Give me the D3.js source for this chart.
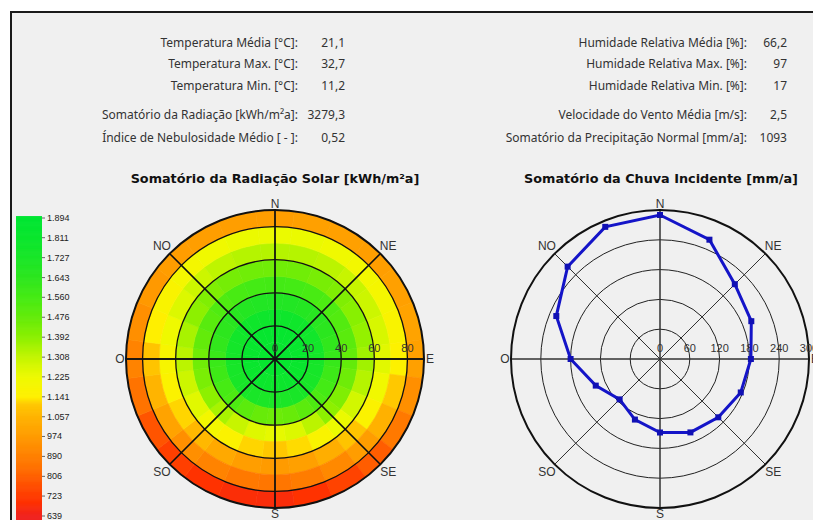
<!DOCTYPE html>
<html><head><meta charset="utf-8">
<script src="https://cdn.jsdelivr.net/npm/d3@7"></script>
<style>body{margin:0;background:#fff;overflow:hidden}</style>
</head><body><svg id="c" width="813" height="520"></svg>
<script>
// ---------- DATA ----------
const statsLeftLabels = ["Temperatura Média [°C]:", "Temperatura Max. [°C]:", "Temperatura Min. [°C]:", "Somatório da Radiação [kWh/m²a]:", "Índice de Nebulosidade Médio [ - ]:"];
const statsLeftValues = ["21,1", "32,7", "11,2", "3279,3", "0,52"];
const statsRightLabels = ["Humidade Relativa Média [%]:", "Humidade Relativa Max. [%]:", "Humidade Relativa Min. [%]:", "Velocidade do Vento Média [m/s]:", "Somatório da Precipitação Normal [mm/a]:"];
const statsRightValues = ["66,2", "97", "17", "2,5", "1093"];

const titleLeft = "Somatório da Radiação Solar [kWh/m²a]";
const titleRight = "Somatório da Chuva Incidente [mm/a]";

const directions = ["N", "NE", "E", "SE", "S", "SO", "O", "NO"];
const directionAngles = [0, 45, 90, 135, 180, 225, 270, 315];

const tiltTicks = [0, 20, 40, 60, 80];
const tiltMax = 90;
const rainTicks = [0, 60, 120, 180, 240, 300];
const rainMax = 300;

const legendValues = [1894, 1811, 1727, 1643, 1560, 1476, 1392, 1308, 1225, 1141, 1057, 974, 890, 806, 723, 639];
const legendLabels = ["1.894", "1.811", "1.727", "1.643", "1.560", "1.476", "1.392", "1.308", "1.225", "1.141", "1.057", "974", "890", "806", "723", "639"];

// radiation grid: tilt bands of 10°, azimuth sectors of 15° starting at N, clockwise
const bandEdges = [0, 10, 20, 30, 40, 50, 60, 70, 80, 90];
const sectorAzimuths = [0, 15, 30, 45, 60, 75, 90, 105, 120, 135, 150, 165, 180, 195, 210, 225, 240, 255, 270, 285, 300, 315, 330, 345];
const radCenter = 1840;
const radBand1 = [1850,1850,1845,1840,1835,1830,1825,1820,1815,1810,1805,1800,1800,1800,1805,1810,1815,1820,1825,1830,1835,1840,1845,1850];
const radBand2 = [1790,1790,1785,1780,1770,1760,1750,1745,1735,1730,1725,1720,1720,1720,1725,1730,1735,1740,1745,1755,1765,1775,1785,1790];
const radBand3 = [1690,1690,1680,1665,1650,1630,1610,1590,1565,1540,1500,1470,1460,1470,1500,1540,1560,1585,1600,1625,1645,1660,1680,1690];
const radBand4 = [1570,1565,1555,1540,1525,1505,1480,1455,1420,1390,1320,1260,1240,1255,1300,1350,1390,1430,1450,1480,1510,1535,1555,1565];
const radBand5 = [1450,1450,1435,1420,1400,1380,1360,1330,1280,1230,1170,1125,1110,1120,1160,1200,1250,1290,1320,1350,1390,1420,1440,1450];
const radBand6 = [1330,1330,1320,1300,1290,1270,1250,1210,1160,1100,1040,990,975,985,1020,1070,1120,1160,1180,1220,1260,1290,1315,1330];
const radBand7 = [1230,1230,1215,1200,1190,1170,1150,1110,1050,980,920,880,860,870,900,940,1000,1060,1100,1140,1170,1195,1215,1230];
const radBand8 = [985,990,990,985,990,1000,990,940,870,800,740,700,680,685,700,730,780,850,900,940,970,980,985,985];

// incident rain, 16 directions from N clockwise
const rainAzimuths = [0, 22.5, 45, 67.5, 90, 112.5, 135, 157.5, 180, 202.5, 225, 247.5, 270, 292.5, 315, 337.5];
const rainValues = [290, 260, 213, 199, 183, 176, 166, 160, 148, 132, 115, 140, 180, 226, 263, 288];

// ---------- DRAW ----------
const svg = d3.select("#c");
const W = 813, H = 520;
svg.append("rect").attr("width", W).attr("height", H).attr("fill", "#fff");
svg.append("rect").attr("x", 11).attr("y", 12).attr("width", W + 10).attr("height", H + 10)
  .attr("fill", "#F0F0F0").attr("stroke", "#1a1a1a").attr("stroke-width", 2);

const textFont = "'Noto Sans', 'Open Sans', sans-serif";
const rowY = d3.scaleOrdinal().domain(d3.range(5)).range([42, 63, 85, 114, 137]);

function statBlock(labels, values, xLab, xVal) {
  const g = svg.append("g").attr("font-family", textFont).attr("font-size", 12).attr("fill", "#333");
  g.selectAll("text.l").data(labels).join("text").attr("class", "l")
    .attr("x", xLab).attr("y", (d, i) => rowY(i)).attr("text-anchor", "end")
    .attr("dominant-baseline", "central").text(d => d);
  g.selectAll("text.v").data(values).join("text").attr("class", "v")
    .attr("x", xVal).attr("y", (d, i) => rowY(i)).attr("text-anchor", "end")
    .attr("dominant-baseline", "central").text(d => d);
}
statBlock(statsLeftLabels, statsLeftValues, 298, 345);
statBlock(statsRightLabels, statsRightValues, 747, 787);

const titleFont = "'DejaVu Sans', Verdana, sans-serif";
svg.append("text").attr("x", 275).attr("y", 178).attr("text-anchor", "middle").attr("dominant-baseline", "central")
  .attr("font-family", titleFont).attr("font-weight", "bold").attr("font-size", 12.8).attr("fill", "#111").text(titleLeft);
svg.append("text").attr("x", 661).attr("y", 178).attr("text-anchor", "middle").attr("dominant-baseline", "central")
  .attr("font-family", titleFont).attr("font-weight", "bold").attr("font-size", 12.8).attr("fill", "#111").text(titleRight);

// colour scale
const color = d3.scaleLinear()
  .domain([639, 700, 770, 850, 930, 990, 1060, 1110, 1141, 1225, 1308, 1392, 1476, 1560, 1643, 1727, 1811, 1894])
  .range(["#F0221E", "#FF3200", "#FF5000", "#FF7300", "#FF8C00", "#FFA000", "#FFB400", "#FFC800", "#FFF000", "#EEFA00", "#C3F500", "#8CF000", "#64EB0A", "#46EB14", "#2DE61E", "#19E628", "#0AE62D", "#00E632"])
  .interpolate(d3.interpolateRgb).clamp(true);

// legend
const ly = d3.scaleLinear().domain([1894, 639]).range([218, 516]);
const legG = svg.append("g");
const stepVals = d3.range(1894 + 8, 620, -2);
legG.selectAll("rect").data(stepVals).join("rect")
  .attr("x", 16).attr("width", 26)
  .attr("y", d => ly(d)).attr("height", ly(0) - ly(2) + 0.6)
  .attr("fill", d => color(d));
legG.selectAll("line").data(legendValues).join("line")
  .attr("x1", 42).attr("x2", 45).attr("y1", d => ly(d)).attr("y2", d => ly(d))
  .attr("stroke", "#666").attr("stroke-width", 1);
legG.selectAll("text").data(legendLabels).join("text")
  .attr("x", 47).attr("y", (d, i) => ly(legendValues[i])).attr("dominant-baseline", "central")
  .attr("font-family", "'Liberation Sans', Arial, sans-serif").attr("font-size", 9).attr("fill", "#222")
  .text(d => d);

const R = 149;
const rad = Math.PI / 180;
const labelFont = "'Liberation Sans', Arial, sans-serif";

function directionLabels(g) {
  g.selectAll("text.dir").data(directions).join("text").attr("class", "dir")
    .attr("x", (d, i) => Math.sin(directionAngles[i] * rad) * (i % 2 ? 160 : 155))
    .attr("y", (d, i) => -Math.cos(directionAngles[i] * rad) * (i % 2 ? 160 : 155))
    .attr("text-anchor", "middle").attr("dominant-baseline", "central")
    .attr("font-family", labelFont).attr("font-size", 12).attr("fill", "#333").text(d => d);
}
function spokes(g, w, c) {
  g.selectAll("line.sp").data(directionAngles).join("line").attr("class", "sp")
    .attr("x1", d => Math.sin(d * rad) * R).attr("y1", d => -Math.cos(d * rad) * R)
    .attr("x2", d => -Math.sin(d * rad) * R).attr("y2", d => Math.cos(d * rad) * R)
    .attr("stroke", c).attr("stroke-width", w);
}

// ---- left: radiation ----
const gL = svg.append("g").attr("transform", "translate(275,359)");
const rL = d3.scaleLinear().domain([0, tiltMax]).range([0, R]);
const bands = [radBand1, radBand2, radBand3, radBand4, radBand5, radBand6, radBand7, radBand8];
const cells = [];
bands.forEach((arr, b) => arr.forEach((v, k) => cells.push({ b: b + 1, az: sectorAzimuths[k], v })));
const arc = d3.arc();
gL.append("circle").attr("r", rL(bandEdges[1])).attr("fill", color(radCenter));
gL.selectAll("path.cell").data(cells).join("path").attr("class", "cell")
  .attr("d", d => arc({ innerRadius: rL(bandEdges[d.b]), outerRadius: rL(bandEdges[d.b + 1]),
    startAngle: (d.az - 7.5) * rad, endAngle: (d.az + 7.5) * rad }))
  .attr("fill", d => color(d.v)).attr("stroke", d => color(d.v)).attr("stroke-width", 0.6);
gL.selectAll("circle.ring").data(tiltTicks.slice(1)).join("circle").attr("class", "ring")
  .attr("r", d => rL(d)).attr("fill", "none").attr("stroke", "#111").attr("stroke-width", 1.3);
spokes(gL, 1.3, "#111");
gL.append("circle").attr("r", R).attr("fill", "none").attr("stroke", "#111").attr("stroke-width", 2);
gL.selectAll("text.tk").data(tiltTicks).join("text").attr("class", "tk")
  .attr("x", d => rL(d)).attr("y", -11).attr("text-anchor", "middle").attr("dominant-baseline", "central")
  .attr("font-family", labelFont).attr("font-size", 11).attr("fill", "#333").text(d => d);
directionLabels(gL);

// ---- right: rain ----
const gR = svg.append("g").attr("transform", "translate(660,359)");
const rR = d3.scaleLinear().domain([0, rainMax]).range([0, R]);
gR.selectAll("circle.ring").data(rainTicks.slice(1, -1)).join("circle").attr("class", "ring")
  .attr("r", d => rR(d)).attr("fill", "none").attr("stroke", "#222").attr("stroke-width", 1);
spokes(gR, 1, "#333");
gR.append("circle").attr("r", rR(rainMax)).attr("fill", "none").attr("stroke", "#111").attr("stroke-width", 2);
gR.selectAll("text.tk").data(rainTicks).join("text").attr("class", "tk")
  .attr("x", d => rR(d)).attr("y", -11).attr("text-anchor", "middle").attr("dominant-baseline", "central")
  .attr("font-family", labelFont).attr("font-size", 11).attr("fill", "#333").text(d => d);
directionLabels(gR);
const rainPts = rainValues.map((v, i) => [rainAzimuths[i] * rad, rR(v)]);
gR.append("path").datum(rainPts)
  .attr("d", d3.lineRadial().angle(d => d[0]).radius(d => d[1]).curve(d3.curveLinearClosed))
  .attr("fill", "none").attr("stroke", "#1414C8").attr("stroke-width", 3);
gR.selectAll("rect.pt").data(rainPts).join("rect").attr("class", "pt")
  .attr("x", d => Math.sin(d[0]) * d[1] - 3).attr("y", d => -Math.cos(d[0]) * d[1] - 3)
  .attr("width", 6).attr("height", 6).attr("fill", "#1010B4");
</script></body></html>
